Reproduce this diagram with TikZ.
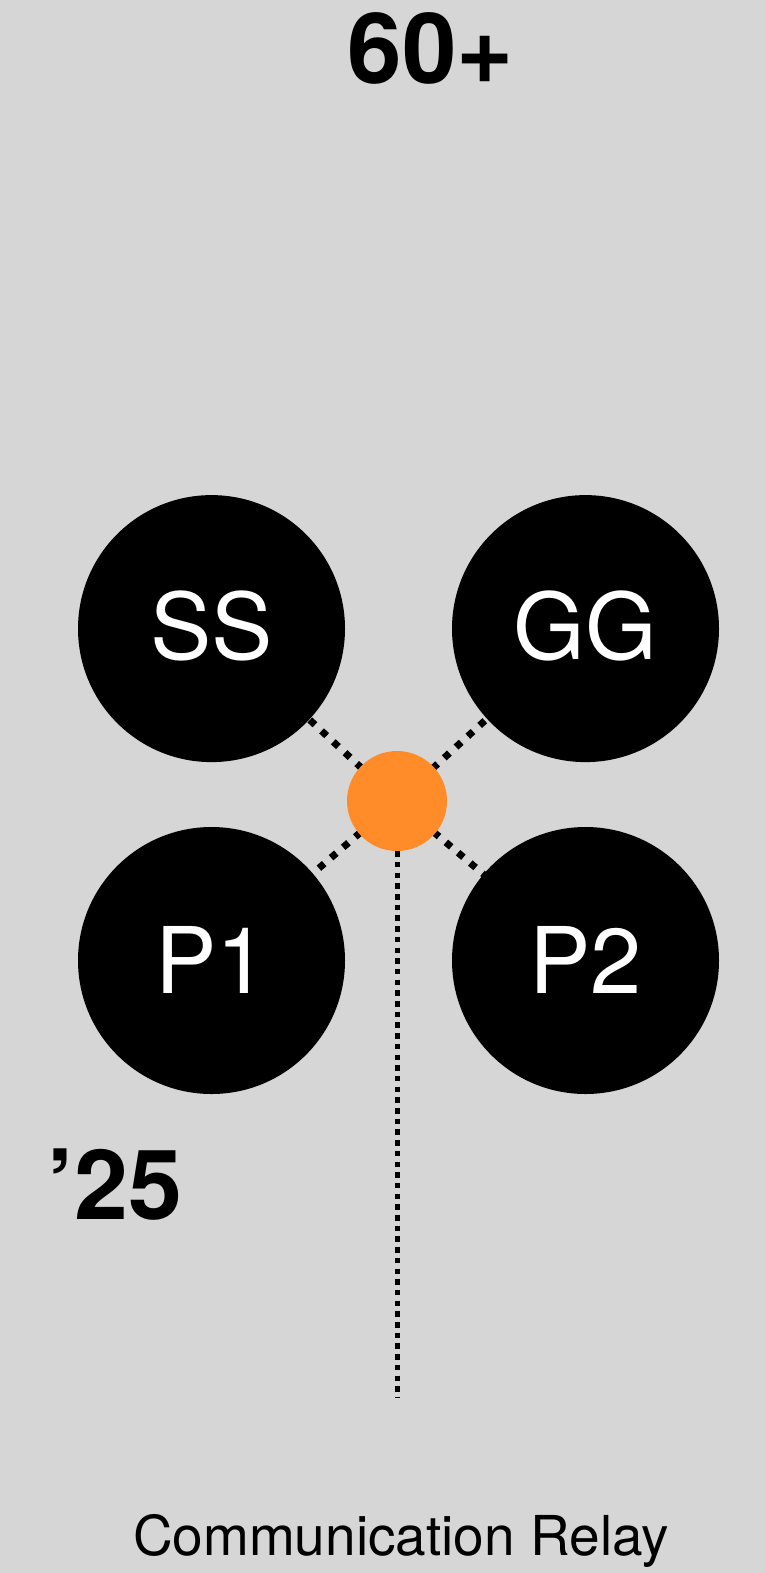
\documentclass[tikz,border=0pt]{standalone}
\usepackage{fontspec}
\setmainfont{TeX Gyre Heros}
\definecolor{bgc}{HTML}{D6D6D6}
\definecolor{hubc}{HTML}{FF8C28}
\begin{document}
\begin{tikzpicture}[x=1pt,y=-1pt,
  big/.style={circle,fill=black,minimum size=267pt,inner sep=0pt},
  lbl/.style={text=white,inner sep=0pt,anchor=base,font=\fontsize{92}{92}\selectfont},
  diag/.style={line width=7pt,dash pattern=on 7pt off 9pt},
  vert/.style={line width=5pt,dash pattern=on 5.5pt off 5.2pt}]
\fill[bgc] (0,0) rectangle (765,1573);
\useasboundingbox (0,0) rectangle (765,1573);
\coordinate (cSS) at (211.5,628.6);
\coordinate (cGG) at (585.5,628.6);
\coordinate (cP1) at (211.5,960.5);
\coordinate (cP2) at (585.5,960.5);
\coordinate (cH) at (397,801);
\coordinate (vend) at (397,1397);
\draw[diag] (cH) -- (cSS);
\draw[diag] (cH) -- (cGG);
\draw[diag] (cH) -- (cP1);
\draw[diag] (cH) -- (cP2);
\node[big] (SS) at (cSS) {};
\node[big] (GG) at (cGG) {};
\node[big] (P1) at (cP1) {};
\node[big] (P2) at (cP2) {};
\node[circle,fill=hubc,minimum size=100pt,inner sep=0pt] (hub) at (cH) {};
\draw[vert] (hub.south) -- (vend);
\node[lbl] (tSS) at (211.5,659) {SS};
\node[lbl] (tGG) at (585.5,659) {GG};
\node[lbl] (tP1) at (211.5,993) {P1};
\node[lbl] (tP2) at (585.5,993) {P2};
\node[anchor=base,inner sep=0pt,font=\fontsize{98}{98}\bfseries] (top) at (431,84) {60+};
\node[anchor=base west,inner sep=0pt,font=\fontsize{97}{97}\bfseries] (yr) at (47,1219) {’25};
\node[anchor=base,inner sep=0pt,font=\fontsize{55}{55}\selectfont] (cap) at (401,1555) {Communication Relay};
\end{tikzpicture}
\end{document}
